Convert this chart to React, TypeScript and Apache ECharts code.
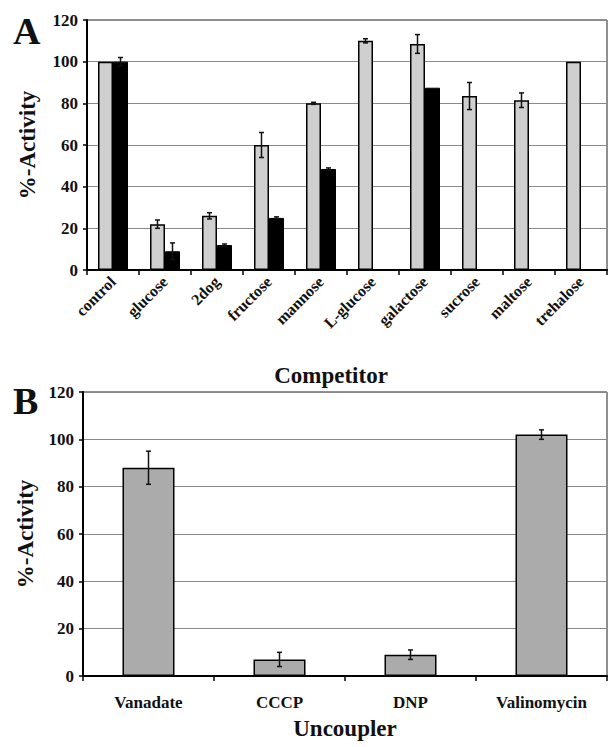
import React, { useEffect, useRef } from "react";
import * as echarts from "echarts";

const categoriesA = ["control", "glucose", "2dog", "fructose", "mannose", "L-glucose", "galactose", "sucrose", "maltose", "trehalose"];
const lightA = [100, 22, 26, 60, 80, 110, 108.5, 83.5, 81.5, 100];
const lightErrA = [0, 2, 1.5, 6, 0.5, 1, 4.5, 6.5, 3.5, 0];
const darkA = [100, 9, 12, 25, 48.5, null, 87.5, null, null, null];
const darkErrA = [2, 4, 0.5, 0.5, 0.5, 0, 0, 0, 0, 0];

const categoriesB = ["Vanadate", "CCCP", "DNP", "Valinomycin"];
const valuesB = [88, 7, 9, 102];
const errB = [7, 3, 2, 2];

const yTicks = { min: 0, max: 120, interval: 20 };

const FONT = "Liberation Serif";
const BAR_W_A = 15;

function errData(vals: (number | null)[], errs: number[]) {
  const out: number[][] = [];
  vals.forEach((v, i) => {
    if (v != null && errs[i] > 0) out.push([i, v, errs[i]]);
  });
  return out;
}

function errRender(offset: number) {
  return (params: any, api: any) => {
    const i = api.value(0);
    const v = api.value(1);
    const e = api.value(2);
    const top = api.coord([i, v + e]);
    const bot = api.coord([i, v - e]);
    const x = top[0] + offset;
    const cap = 2.5;
    const style = { stroke: "#111", lineWidth: 1.5 };
    return {
      type: "group",
      children: [
        { type: "line", shape: { x1: x, y1: top[1], x2: x, y2: bot[1] }, style },
        { type: "line", shape: { x1: x - cap, y1: top[1], x2: x + cap, y2: top[1] }, style },
        { type: "line", shape: { x1: x - cap, y1: bot[1], x2: x + cap, y2: bot[1] }, style },
      ],
    };
  };
}

const axisLabelStyle = { color: "#111", fontFamily: FONT, fontWeight: "bold" as const, fontSize: 17 };

export default function App() {
  const ref = useRef<HTMLDivElement>(null);
  useEffect(() => {
    document.body.style.margin = "0";
    if (!ref.current) return;
    const chart = echarts.init(ref.current, undefined, { renderer: "svg" });
    const yAxisCommon = {
      type: "value" as const,
      ...yTicks,
      axisLine: { show: true, lineStyle: { color: "#000", width: 2 } },
      axisTick: { show: true, length: 4, lineStyle: { color: "#000", width: 1.5 } },
      splitLine: { show: true, lineStyle: { color: "#8a8a8a", width: 1 } },
      axisLabel: { ...axisLabelStyle, margin: 9 },
      nameLocation: "middle" as const,
      nameTextStyle: { color: "#111", fontFamily: FONT, fontWeight: "bold" as const, fontSize: 23 },
      name: "%-Activity",
    };
    chart.setOption({
      animation: false,
      backgroundColor: "#fff",
      textStyle: { fontFamily: FONT },
      grid: [
        { left: 87, top: 20, width: 520, height: 250, show: true, borderColor: "#222", borderWidth: 1, backgroundColor: "transparent" },
        { left: 83, top: 392, width: 524, height: 284, show: true, borderColor: "#222", borderWidth: 1, backgroundColor: "transparent" },
      ],
      xAxis: [
        {
          type: "category",
          gridIndex: 0,
          data: categoriesA,
          axisLine: { lineStyle: { color: "#000", width: 2 } },
          axisTick: { show: true, length: 5, lineStyle: { color: "#000", width: 1.5 } },
          axisLabel: { ...axisLabelStyle, fontSize: 16, rotate: 45, margin: 9, interval: 0 },
        },
        {
          type: "category",
          gridIndex: 1,
          data: categoriesB,
          axisLine: { lineStyle: { color: "#000", width: 2 } },
          axisTick: { show: true, length: 5, lineStyle: { color: "#000", width: 1.5 } },
          axisLabel: { ...axisLabelStyle, fontSize: 17, margin: 18, interval: 0 },
          name: "Uncoupler",
          nameLocation: "middle",
          nameGap: 41,
          nameTextStyle: { color: "#111", fontFamily: FONT, fontWeight: "bold", fontSize: 23 },
        },
      ],
      yAxis: [
        { ...yAxisCommon, gridIndex: 0, nameGap: 48 },
        { ...yAxisCommon, gridIndex: 1, nameGap: 46 },
      ],
      graphic: [
        { type: "text", left: 13, top: 12, style: { text: "A", font: `bold 38px ${FONT}`, fill: "#111" } },
        { type: "text", left: 13, top: 382, style: { text: "B", font: `bold 38px ${FONT}`, fill: "#111" } },
        { type: "text", x: 331, y: 375, style: { text: "Competitor", font: `bold 23px ${FONT}`, fill: "#111", align: "center", verticalAlign: "middle" } },
      ],
      series: [
        {
          type: "bar",
          xAxisIndex: 0,
          yAxisIndex: 0,
          data: lightA,
          barWidth: BAR_W_A,
          barGap: "0%",
          itemStyle: { color: "#cfcfcf", borderColor: "#000", borderWidth: 1.5 },
        },
        {
          type: "bar",
          xAxisIndex: 0,
          yAxisIndex: 0,
          data: darkA,
          barWidth: BAR_W_A,
          barGap: "0%",
          itemStyle: { color: "#000", borderColor: "#000", borderWidth: 1 },
        },
        {
          type: "custom",
          xAxisIndex: 0,
          yAxisIndex: 0,
          data: errData(lightA, lightErrA),
          encode: { x: 0, y: 1 },
          renderItem: errRender(-BAR_W_A / 2),
          z: 5,
        },
        {
          type: "custom",
          xAxisIndex: 0,
          yAxisIndex: 0,
          data: errData(darkA, darkErrA),
          encode: { x: 0, y: 1 },
          renderItem: errRender(BAR_W_A / 2),
          z: 5,
        },
        {
          type: "bar",
          xAxisIndex: 1,
          yAxisIndex: 1,
          data: valuesB,
          barWidth: 52,
          itemStyle: { color: "#ababab", borderColor: "#000", borderWidth: 1.5 },
        },
        {
          type: "custom",
          xAxisIndex: 1,
          yAxisIndex: 1,
          data: errData(valuesB, errB),
          encode: { x: 0, y: 1 },
          renderItem: errRender(0),
          z: 5,
        },
      ],
    });
    return () => chart.dispose();
  }, []);
  return <div ref={ref} style={{ width: 610, height: 747 }} />;
}
